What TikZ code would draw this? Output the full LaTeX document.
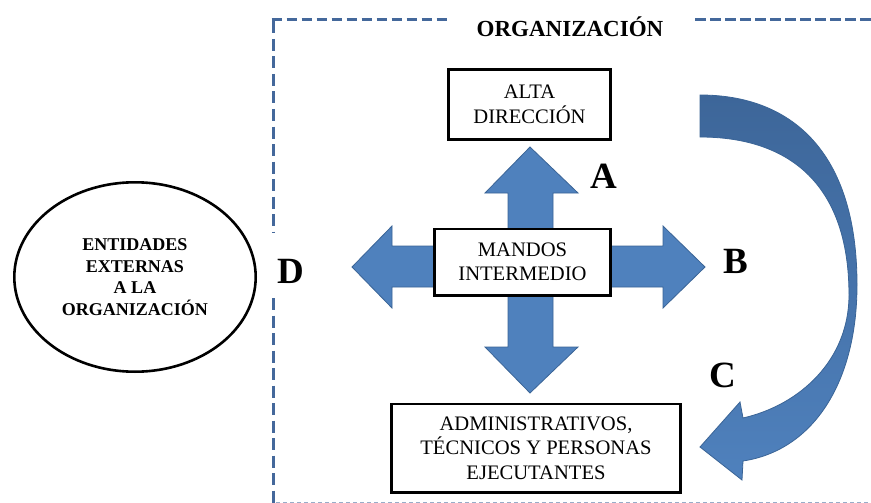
\documentclass[tikz,border=0pt]{standalone}
\usepackage{fontspec}
\setmainfont{Liberation Serif}
\usetikzlibrary{shapes.geometric}

\definecolor{blockblue}{HTML}{4F81BD}
\definecolor{blockedge}{HTML}{3A6496}
\definecolor{curvetop}{HTML}{3D6699}
\definecolor{framecol}{HTML}{44689B}

\tikzset{
  levelbox/.style={draw=black, line width=2.6pt, fill=white, align=center,
    inner sep=0pt, font=\fontsize{20.6}{24.5}\selectfont},
  outerbody/.style={draw=black, line width=2.6pt, ellipse, align=center,
    inner sep=0pt, font=\bfseries\fontsize{18}{21.7}\selectfont},
  flowarrow/.style={fill=blockblue, draw=blockedge, line width=0.8pt, line join=miter},
  turnarrow/.style={top color=curvetop, bottom color=blockblue, draw=blockedge,
    line width=0.8pt, line join=miter},
  frameh/.style={draw=framecol, line width=3pt, dash pattern=on 10.5pt off 4.5pt},
  framev/.style={draw=framecol, line width=3pt, dash pattern=on 12pt off 5.5pt},
  letter/.style={font=\bfseries\fontsize{37}{37}\selectfont, anchor=base, inner sep=0pt},
  frametitle/.style={font=\bfseries\fontsize{23}{26}\selectfont, anchor=base, inner sep=0pt},
}

\begin{document}
\begin{tikzpicture}[x=1pt, y=-1pt]
  \useasboundingbox (0,0) rectangle (871,503);
  \fill[white] (0,0) rectangle (871,503);

  % dashed frame of the organisation
  \draw[frameh] (271.5,20) -- (447,20);
  \draw[frameh] (695,20) -- (871,20);
  \draw[framev] (273,21.5) -- (273,232);
  \draw[framev] (273,298) -- (273,503);
  \draw[draw=framecol!55, line width=2pt, dash pattern=on 4pt off 3pt] (276,502.5) -- (871,502.5);
  \node[frametitle] (org) at (570,37) {ORGANIZACIÓN};

  % four-way block arrow around the middle level
  \path[flowarrow]
    (530,147) -- (578,193) -- (553,193) -- (553,246) -- (663,246) -- (663,226)
    -- (705,267) -- (663,308) -- (663,287) -- (553,287) -- (553,347) -- (578,347)
    -- (530,393) -- (485,347) -- (508,347) -- (508,287) -- (392,287) -- (392,308)
    -- (352,267) -- (392,226) -- (392,246) -- (508,246) -- (508,193) -- (485,193)
    -- cycle;

  % levels
  \node[levelbox, minimum width=162.4pt, minimum height=70.4pt] (alta) at (529.5,104.5)
    {ALTA\\DIRECCIÓN};
  \node[levelbox, minimum width=176.4pt, minimum height=66.4pt] (mandos) at (522.5,262)
    {MANDOS\\INTERMEDIO};
  \node[levelbox, minimum width=289.4pt, minimum height=88.4pt] (base) at (536,448)
    {ADMINISTRATIVOS,\\TÉCNICOS Y PERSONAS\\EJECUTANTES};

  % external entities
  \node[outerbody, minimum width=241.4pt, minimum height=189.4pt] (ext) at (135,277)
    {ENTIDADES\\EXTERNAS\\A LA\\ORGANIZACIÓN};

  % curved arrow from the top level down to the operating level
  \path[turnarrow]
    (700,95) .. controls (790,95) and (857,150) .. (857,285)
    .. controls (857,380) and (815,450) .. (743,461)
    -- (742,480) -- (700,447) -- (740,402) -- (743,418)
    .. controls (800,405) and (849,360) .. (849,295)
    .. controls (849,180) and (785,137) .. (700,137) -- cycle;

  % flow labels
  \node[letter] (la) at (604,188) {A};
  \node[letter] (lb) at (736,273) {B};
  \node[letter] (lc) at (723,387) {C};
  \node[letter] (ld) at (291,283) {D};
\end{tikzpicture}
\end{document}
